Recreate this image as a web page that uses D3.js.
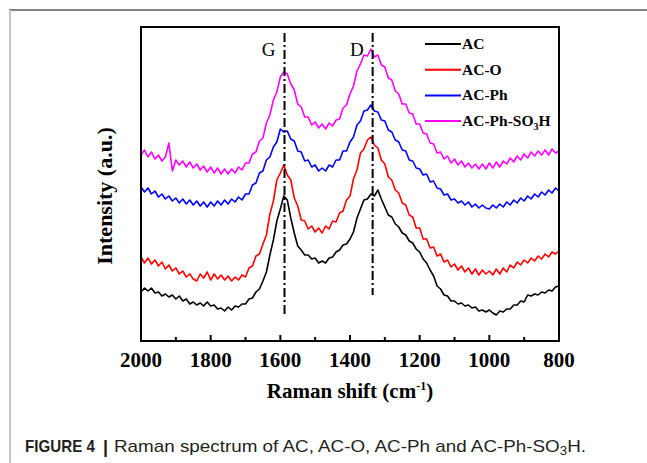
<!DOCTYPE html>
<html>
<head>
<meta charset="utf-8">
<script src="https://cdn.jsdelivr.net/npm/d3@7"></script>
<style>
  body { margin: 0; background: #fff; }
  svg { display: block; }
</style>
</head>
<body>
<div id="chart"></div>
<script>
const width = 647;
const height = 463;

// Raman shift, 2000 -> 800 cm-1, every 10 cm-1
const shifts = d3.range(2000, 799, -10);

// intensities (a.u., arbitrary offset per series)
const acValues = [
  49, 53, 50, 53, 48, 49, 45, 47, 44, 46, 42, 45, 40, 42, 37, 39, 36, 38, 35, 39,
  35, 36, 32, 33, 30, 34, 31, 35, 34, 37, 37, 42, 43, 49, 52, 60, 69, 86, 101, 120,
  132, 145, 141, 123, 108, 95, 91, 86, 86, 82, 83, 78, 80, 78, 83, 84, 89, 91, 96, 97,
  102, 109, 123, 132, 141, 142, 147, 145, 151, 142, 134, 126, 124, 117, 114, 108, 106, 100, 98, 92,
  89, 82, 78, 71, 65, 55, 52, 46, 45, 40, 40, 37, 38, 35, 36, 33, 34, 30, 31, 29,
  31, 28, 26, 30, 29, 32, 32, 36, 36, 40, 39, 46, 45, 47, 46, 49, 48, 51, 50, 54,
  55
];
const acoValues = [
  84, 78, 83, 77, 81, 75, 79, 72, 76, 70, 73, 67, 70, 64, 67, 62, 60, 67, 63, 69,
  61, 67, 62, 66, 61, 65, 60, 64, 61, 66, 64, 73, 75, 85, 87, 97, 106, 127, 140, 161,
  168, 176, 166, 161, 143, 135, 121, 120, 112, 115, 109, 113, 108, 115, 112, 120, 119, 128, 130, 141,
  145, 162, 171, 188, 192, 201, 204, 196, 193, 181, 177, 164, 161, 151, 148, 138, 136, 126, 124, 113,
  113, 102, 102, 93, 94, 85, 87, 79, 81, 74, 77, 71, 75, 69, 73, 67, 72, 66, 71, 67,
  70, 66, 72, 67, 73, 69, 76, 73, 79, 76, 81, 78, 83, 80, 85, 82, 87, 84, 89, 87,
  90
];
const acphValues = [
  154, 149, 153, 147, 150, 144, 147, 142, 145, 140, 143, 138, 142, 137, 141, 136, 140, 135, 139, 134,
  139, 135, 140, 136, 141, 137, 142, 139, 144, 141, 147, 147, 156, 158, 168, 170, 181, 184, 194, 199,
  212, 209, 210, 202, 200, 190, 189, 180, 181, 174, 176, 170, 173, 170, 176, 174, 181, 181, 190, 190,
  199, 204, 216, 220, 230, 231, 236, 230, 229, 221, 220, 211, 209, 201, 199, 191, 190, 181, 180, 173,
  172, 166, 167, 159, 160, 153, 152, 146, 147, 141, 142, 138, 140, 136, 139, 134, 137, 133, 136, 133,
  132, 136, 133, 137, 134, 139, 136, 141, 138, 143, 140, 145, 142, 147, 144, 149, 146, 151, 148, 153,
  150
];
const acphso3hValues = [
  186, 191, 184, 189, 182, 186, 180, 184, 198, 170, 181, 176, 180, 174, 179, 173, 177, 171, 175, 169,
  174, 168, 173, 167, 172, 167, 172, 168, 174, 171, 178, 178, 187, 189, 200, 203, 218, 226, 241, 249,
  264, 269, 267, 257, 251, 237, 234, 224, 224, 216, 219, 213, 217, 212, 218, 215, 221, 222, 233, 236,
  247, 255, 270, 277, 286, 285, 292, 284, 286, 276, 274, 263, 261, 250, 247, 237, 237, 228, 227, 217,
  217, 208, 207, 198, 197, 188, 189, 182, 185, 178, 182, 176, 180, 174, 178, 173, 177, 172, 177, 172,
  178, 173, 179, 174, 180, 177, 183, 179, 185, 181, 187, 183, 189, 185, 190, 186, 191, 186, 192, 188,
  190
];

const seriesNames = ["AC", "AC-O", "AC-Ph", "AC-Ph-SO3H"];
const seriesValues = [acValues, acoValues, acphValues, acphso3hValues];
const seriesColors = ["#000000", "#ff0000", "#0000ff", "#ff00ff"];

const xTicks = [2000, 1800, 1600, 1400, 1200, 1000, 800];
const xMinorTicks = [1900, 1700, 1500, 1300, 1100, 900];
const peaks = [
  { name: "G", shift: 1588 },
  { name: "D", shift: 1335 }
];

const margin = { left: 141, right: 88, top: 27, bottom: 122 };
const plotW = width - margin.left - margin.right;
const plotH = height - margin.top - margin.bottom;

const svg = d3.select('#chart')
    .append("svg")
    .attr('width', width)
    .attr('height', height);

// page frame (top and left edges of the figure box)
svg.append("line")
    .attr("x1", 9).attr("x2", width)
    .attr("y1", 10).attr("y2", 10)
    .style("stroke", "#5a5a5a")
    .style("stroke-width", 1.5);
svg.append("line")
    .attr("x1", 10).attr("x2", 10)
    .attr("y1", 10).attr("y2", height)
    .style("stroke", "#c4c4c4")
    .style("stroke-width", 2);

const x = d3.scaleLinear()
    .domain([2000, 800])
    .range([0, plotW]);

const y = d3.scaleLinear()
    .domain([0, 314])
    .range([plotH, 0]);

const g = svg.append("g")
    .attr("transform", `translate(${margin.left},${margin.top})`);

// spectra
const line = d3.line()
    .x((d, i) => x(shifts[i]))
    .y(d => y(d));

g.selectAll(".spectrum")
    .data(seriesValues)
    .enter().append("path")
    .attr("class", "spectrum")
    .attr("d", line)
    .style("fill", "none")
    .style("stroke", (d, i) => seriesColors[i])
    .style("stroke-width", 1.6)
    .style("stroke-linejoin", "round");

// G and D marker lines
g.selectAll(".peak")
    .data(peaks)
    .enter().append("line")
    .attr("class", "peak")
    .attr("x1", d => x(d.shift))
    .attr("x2", d => x(d.shift))
    .attr("y1", 6)
    .attr("y2", d => d.name === "G" ? 288 : 268)
    .style("stroke", "#000")
    .style("stroke-width", 2)
    .style("stroke-dasharray", "9,3,2,3");

g.selectAll(".peak-label")
    .data(peaks)
    .enter().append("text")
    .attr("class", "peak-label")
    .attr("x", d => x(d.shift) - 9)
    .attr("y", 29)
    .attr("text-anchor", "end")
    .style("font-family", "'Liberation Serif', 'Times New Roman', serif")
    .style("font-size", "19px")
    .text(d => d.name);

// x axis, ticks pointing inward
const xAxis = g.append("g")
    .attr("transform", `translate(0,${plotH})`);

xAxis.selectAll(".major")
    .data(xTicks)
    .enter().append("line")
    .attr("x1", d => x(d)).attr("x2", d => x(d))
    .attr("y1", 0).attr("y2", -6)
    .style("stroke", "#000")
    .style("stroke-width", 2);

xAxis.selectAll(".minor")
    .data(xMinorTicks)
    .enter().append("line")
    .attr("x1", d => x(d)).attr("x2", d => x(d))
    .attr("y1", 0).attr("y2", -4)
    .style("stroke", "#000")
    .style("stroke-width", 2);

xAxis.selectAll(".tick-label")
    .data(xTicks)
    .enter().append("text")
    .attr("class", "tick-label")
    .attr("x", d => x(d))
    .attr("y", 26)
    .attr("text-anchor", "middle")
    .style("font-family", "'Liberation Serif', 'Times New Roman', serif")
    .style("font-weight", "bold")
    .style("font-size", "21px")
    .text(d => d);

// plot frame
g.append("rect")
    .attr("width", plotW)
    .attr("height", plotH)
    .style("fill", "none")
    .style("stroke", "#000")
    .style("stroke-width", 2);

// axis titles
const xTitle = g.append("text")
    .attr("x", plotW / 2)
    .attr("y", plotH + 57)
    .attr("text-anchor", "middle")
    .style("font-family", "'Liberation Serif', 'Times New Roman', serif")
    .style("font-weight", "bold")
    .style("font-size", "21px");
xTitle.append("tspan").text("Raman shift (cm");
xTitle.append("tspan").attr("dy", -8).style("font-size", "12px").text("-1");
xTitle.append("tspan").attr("dy", 8).text(")");

g.append("text")
    .attr("transform", `translate(${-29},${plotH / 2 + 12}) rotate(-90)`)
    .attr("text-anchor", "middle")
    .style("font-family", "'Liberation Serif', 'Times New Roman', serif")
    .style("font-weight", "bold")
    .style("font-size", "22px")
    .text("Intensity (a.u.)");

// legend
const legend = g.selectAll(".legend")
    .data(seriesNames)
    .enter().append("g")
    .attr("class", "legend")
    .attr("transform", (d, i) => `translate(284,${17 + i * 25.7})`);

legend.append("line")
    .attr("x1", 0).attr("x2", 36)
    .style("stroke", (d, i) => seriesColors[i])
    .style("stroke-width", 2);

legend.each(function (d) {
    const t = d3.select(this).append("text")
        .attr("x", 37)
        .attr("y", 5)
        .style("font-family", "'Liberation Serif', 'Times New Roman', serif")
        .style("font-weight", "bold")
        .style("font-size", "15.5px");
    if (d === "AC-Ph-SO3H") {
        t.append("tspan").text("AC-Ph-SO");
        t.append("tspan").attr("dy", 4).style("font-size", "10px").text("3");
        t.append("tspan").attr("dy", -4).text("H");
    } else {
        t.text(d);
    }
});

// caption
svg.append("text")
    .attr("x", 25)
    .attr("y", 452)
    .attr("textLength", 70)
    .attr("lengthAdjust", "spacingAndGlyphs")
    .style("font-family", "'Liberation Sans', Arial, sans-serif")
    .style("font-size", "17px")
    .style("font-weight", "bold")
    .style("fill", "#231f20")
    .text("FIGURE 4");

svg.append("text")
    .attr("x", 103)
    .attr("y", 453)
    .style("font-family", "'Liberation Sans', Arial, sans-serif")
    .style("font-size", "18px")
    .style("font-weight", "bold")
    .style("fill", "#231f20")
    .text("|");

const caption = svg.append("text")
    .attr("x", 114)
    .attr("y", 452)
    .attr("textLength", 472)
    .attr("lengthAdjust", "spacingAndGlyphs")
    .style("font-family", "'Liberation Sans', Arial, sans-serif")
    .style("font-size", "17px")
    .style("fill", "#231f20");
caption.append("tspan").text("Raman spectrum of AC, AC-O, AC-Ph and AC-Ph-SO");
caption.append("tspan").attr("dy", 3).style("font-size", "12px").text("3");
caption.append("tspan").attr("dy", -3).text("H.");
</script>
</body>
</html>
